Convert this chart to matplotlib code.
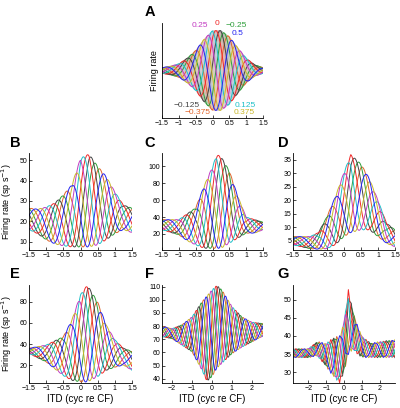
import numpy as np
import matplotlib.pyplot as plt
from matplotlib.colors import to_rgb

plt.rcParams['font.family'] = ['Liberation Sans', 'DejaVu Sans']

# IPD offsets (cycles) and their colours, as labelled in panel A
ipd_labels = [-0.375, -0.25, -0.125, 0, 0.125, 0.25, 0.375, 0.5]
ipd_colors = ['#e0642a', '#2e9e3a', '#444444', '#f02828',
              '#1fc0c8', '#c23cc2', '#c9b72a', '#2424f0']

# panel A: schematic, envelope of the family of curves (normalised rate)
a_itd = [-1.5, -1.25, -1, -0.75, -0.5, -0.25, 0, 0.25, 0.5, 0.75, 1, 1.25, 1.5]
a_upper = [0.53, 0.545, 0.57, 0.63, 0.71, 0.83, 0.92, 0.92, 0.855, 0.74, 0.63, 0.56, 0.53]
a_lower = [0.47, 0.455, 0.43, 0.37, 0.29, 0.17, 0.08, 0.08, 0.145, 0.26, 0.37, 0.44, 0.47]

# panels B-G: upper / lower envelope of the measured curves (sp/s)
b_itd = [-1.5, -1.25, -1, -0.75, -0.5, -0.25, 0, 0.25, 0.5, 0.75, 1, 1.25, 1.5]
b_upper = [26.5, 26, 27, 29, 33, 38, 51, 53, 47, 42, 34.5, 28, 26.5]
b_lower = [16, 14, 11, 9, 8, 7.5, 7.5, 7.5, 8.5, 11, 14, 16, 14.5]

c_itd = [-1.5, -1, -0.75, -0.5, -0.25, 0, 0.125, 0.25, 0.5, 0.75, 1, 1.25, 1.5]
c_upper = [37, 37, 44, 51, 77, 100, 114, 112, 95, 65, 40, 37, 34]
c_lower = [25, 19, 12, 7, 3, 3, 3, 3, 9, 15, 21, 21, 25]

d_itd = [-1.5, -1, -0.75, -0.5, -0.25, 0, 0.2, 0.5, 0.75, 1, 1.25, 1.5]
d_upper = [6.5, 6.5, 8, 14, 21.5, 30.5, 37, 33.5, 28, 20, 11.5, 9]
d_lower = [3.4, 2, 1.8, 2, 3.5, 6.5, 8, 9, 9, 6.5, 4, 2.7]

e_itd = [-1.5, -1, -0.5, -0.25, 0, 0.2, 0.5, 0.75, 1, 1.25, 1.5]
e_upper = [36, 39, 47, 63, 87, 96, 80, 58, 44, 36, 33]
e_lower = [31, 23, 10, 5.5, 4, 4, 9, 15, 18, 20, 15]

f_itd = [-2.5, -2, -1.5, -1, -0.5, -0.25, 0, 0.25, 0.5, 1, 1.5, 2, 2.5]
f_upper = [80, 78, 81, 87, 98.5, 103, 107.5, 111, 107.5, 95, 87, 83, 82]
f_lower = [72, 70.5, 65.5, 60.5, 46.5, 38, 41.5, 48, 51.7, 59, 64, 68, 72]

g_itd = [-2.85, -2, -1.5, -1, -0.5, -0.25, 0, 0.25, 0.5, 0.75, 1, 1.5, 2, 2.85]
g_upper = [36.5, 36.5, 38.5, 38, 40, 40, 44, 53, 47, 43, 40, 38, 38.5, 39]
g_lower = [34, 34, 34.5, 31.5, 28, 27, 29.5, 35, 36, 35, 34, 34, 34, 34]

W, H = 400, 408
fig = plt.figure(figsize=(W / 100, H / 100), dpi=100)


def px_axes(left, top, right, bottom):
    return fig.add_axes([left / W, 1 - bottom / H, (right - left) / W, (bottom - top) / H])


def style(ax):
    for s in ['top', 'right']:
        ax.spines[s].set_visible(False)
    for s in ['left', 'bottom']:
        ax.spines[s].set_linewidth(0.6)
    ax.tick_params(direction='in', length=2, width=0.5, pad=1.2, labelsize=5)


def family(ax, itd, upper, lower, centre, xlim, n=301, lw=0.7):
    x = np.linspace(xlim[0], xlim[1], n)
    up = np.interp(x, itd, upper)
    lo = np.interp(x, itd, lower)
    for ipd, col in zip(ipd_labels, ipd_colors):
        mod = (1 + np.cos(2 * np.pi * (x - centre + ipd))) / 2
        ax.plot(x, lo + (up - lo) * mod, color=col, lw=lw)


# ---- panel A
axA = px_axes(162, 23, 263, 118)
style(axA)
x = np.linspace(-1.5, 1.5, 601)
up = np.interp(x, a_itd, a_upper)
lo = np.interp(x, a_itd, a_lower)
# dense family between the labelled curves
fine = np.arange(-0.5, 0.5, 1 / 32)
for ph in fine:
    k = np.interp(ph, ipd_labels + [0.625], list(range(9)))
    i0 = int(np.floor(k)) % 8
    i1 = (i0 + 1) % 8
    t = k - np.floor(k)
    col = (1 - t) * np.array(to_rgb(ipd_colors[i0])) + t * np.array(to_rgb(ipd_colors[i1]))
    col = 0.5 * col + 0.5  # paler
    mod = (1 + np.cos(2 * np.pi * (x - 0.1 + ph))) / 2
    axA.plot(x, lo + (up - lo) * mod, color=col, lw=0.4)
for ipd, col in zip(ipd_labels, ipd_colors):
    mod = (1 + np.cos(2 * np.pi * (x - 0.1 + ipd))) / 2
    axA.plot(x, lo + (up - lo) * mod, color=col, lw=0.7)
axA.set_xlim(-1.5, 1.5)
axA.set_ylim(0, 1)
axA.set_yticks([])
axA.set_xticks([-1.5, -1, -0.5, 0, 0.5, 1, 1.5])
axA.set_xticklabels(['\u22121.5', '\u22121', '\u22120.5', '0', '0.5', '1', '1.5'])
axA.set_ylabel('Firing rate', fontsize=6.5)
axA.yaxis.set_label_coords(-0.03, 0.5)

lab_pos = {0.25: (-0.37, 0.975), 0: (0.13, 0.99), -0.25: (0.7, 0.975), 0.5: (0.73, 0.885),
           -0.125: (-0.76, 0.13), -0.375: (-0.43, 0.055), 0.125: (0.96, 0.13), 0.375: (0.93, 0.055)}
for ipd, col in zip(ipd_labels, ipd_colors):
    lx, ly = lab_pos[ipd]
    txt = '0' if ipd == 0 else ('%g' % ipd).replace('-', '\u2212')
    axA.text(lx, ly, txt, color=col, fontsize=6, ha='center', va='center')

# ---- panels B-G
panels = [
    ('B', (29, 153, 132, 250), b_itd, b_upper, b_lower, 0.2, (-1.5, 1.5), (6, 53.5), [10, 20, 30, 40, 50]),
    ('C', (162, 153, 263, 250), c_itd, c_upper, c_lower, 0.18, (-1.5, 1.5), (1, 116), [20, 40, 60, 80, 100]),
    ('D', (293, 153, 395, 250), d_itd, d_upper, d_lower, 0.2, (-1.5, 1.5), (1.5, 37.6), [5, 10, 15, 20, 25, 30, 35]),
    ('E', (29, 285, 132, 383), e_itd, e_upper, e_lower, 0.15, (-1.5, 1.5), (3, 96), [20, 40, 60, 80]),
    ('F', (162, 285, 263, 383), f_itd, f_upper, f_lower, 0.2, (-2.5, 2.56), (36.7, 111.3), [40, 50, 60, 70, 80, 90, 100, 110]),
    ('G', (293, 285, 395, 383), g_itd, g_upper, g_lower, 0.25, (-2.86, 2.86), (27, 54.1), [30, 35, 40, 45, 50]),
]

for name, box, itd, upper, lower, centre, xlim, ylim, yt in panels:
    ax = px_axes(*box)
    style(ax)
    if name == 'G':
        family(ax, itd, upper, lower, centre, xlim, n=36)
    else:
        family(ax, itd, upper, lower, centre, xlim)
    ax.set_xlim(*xlim)
    ax.set_ylim(*ylim)
    ax.set_yticks(yt)
    if xlim[0] == -1.5:
        ax.set_xticks([-1.5, -1, -0.5, 0, 0.5, 1, 1.5])
        ax.set_xticklabels(['\u22121.5', '\u22121', '\u22120.5', '0', '0.5', '1', '1.5'])
    else:
        ax.set_xticks([-2, -1, 0, 1, 2])
        ax.set_xticklabels(['\u22122', '\u22121', '0', '1', '2'])
    if name in ('B', 'E'):
        ax.set_ylabel('Firing rate (sp s$^{-1}$)', fontsize=6.5)
        ax.yaxis.set_label_coords(-0.145, 0.5)
    if name in ('E', 'F', 'G'):
        ax.set_xlabel('ITD (cyc re CF)', fontsize=7)
        ax.xaxis.set_label_coords(0.5, -0.115)

letters = {'A': (150, 12.5), 'B': (15, 143), 'C': (150, 143), 'D': (283, 143),
           'E': (15, 274), 'F': (150, 274), 'G': (283, 274)}
for k, (lx, ly) in letters.items():
    fig.text(lx / W, 1 - ly / H, k, fontsize=10.5, fontweight='bold', ha='center', va='center')

fig.savefig('out.png', dpi=100)
